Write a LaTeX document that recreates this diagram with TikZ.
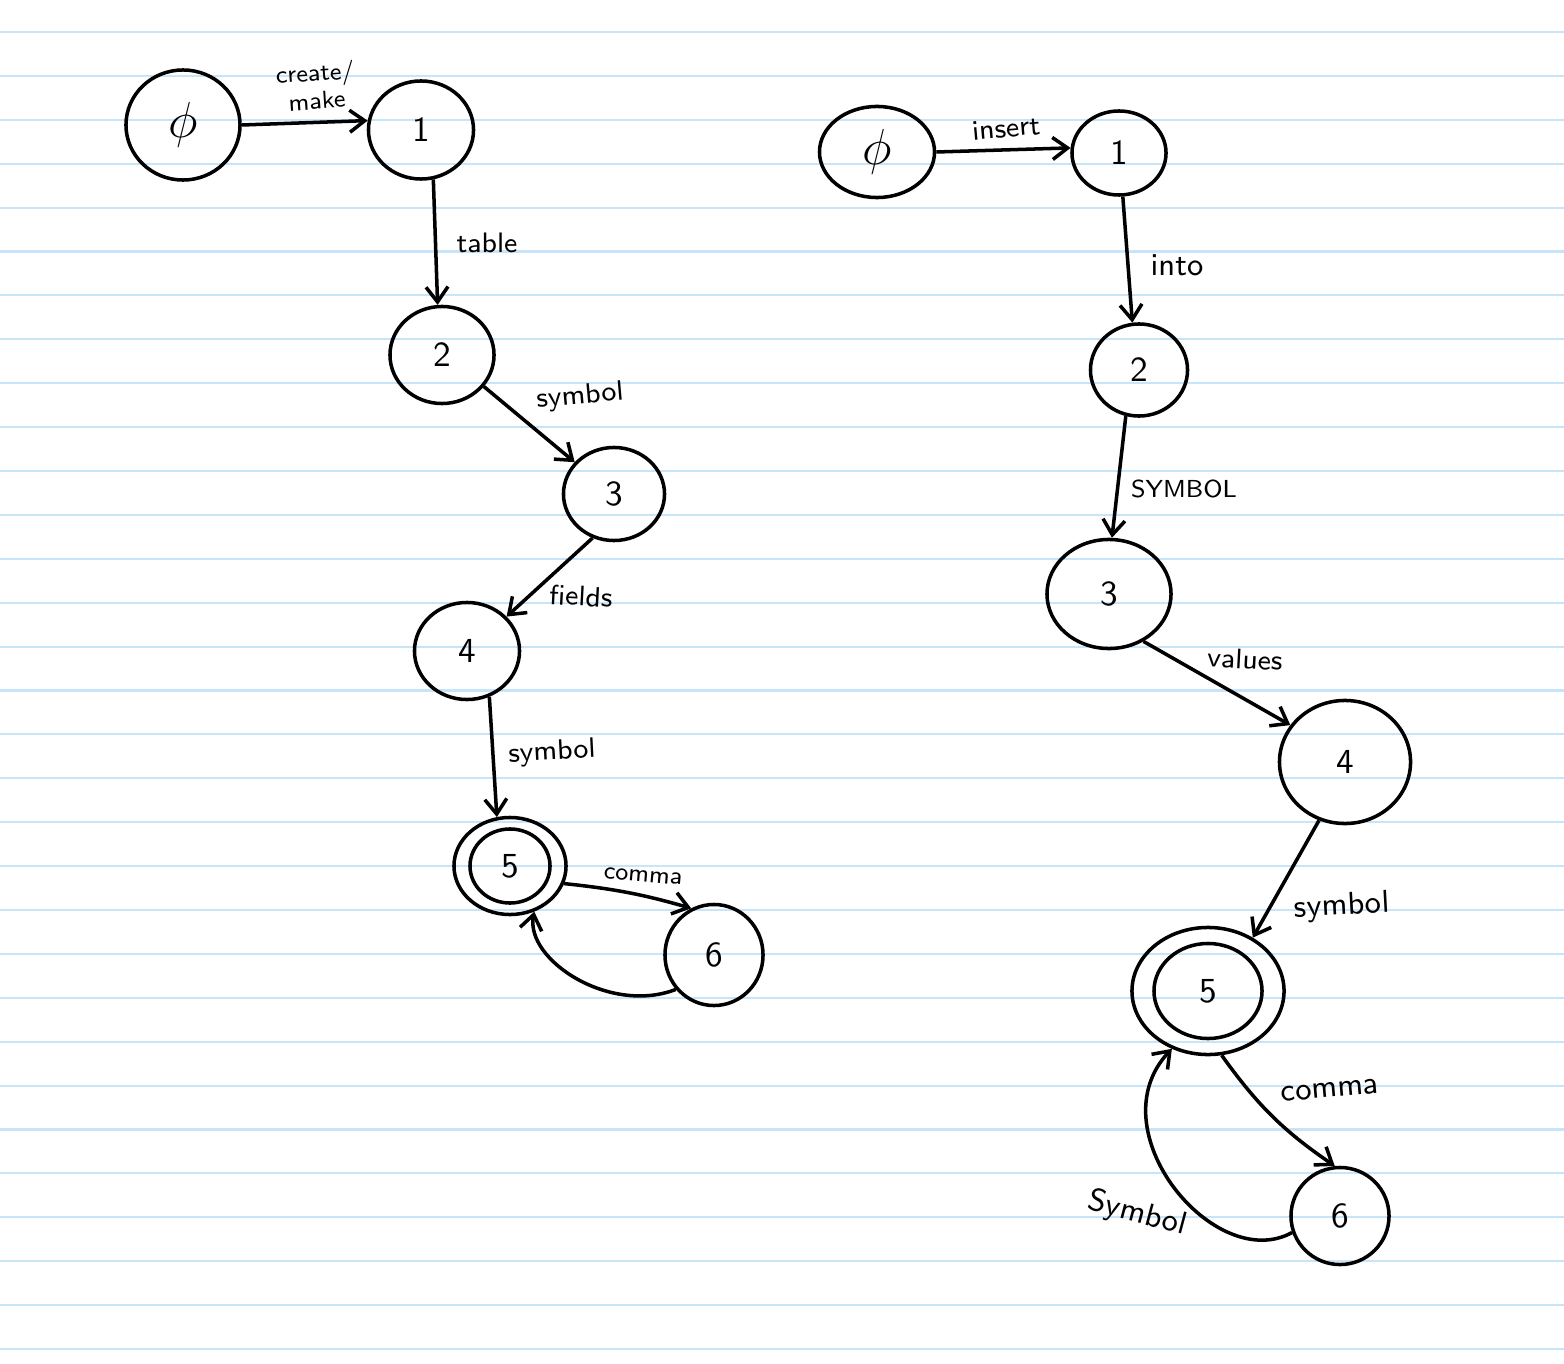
\documentclass[tikz,border=0pt]{standalone}
\usepackage{amsmath}
\usepackage{color}
\usetikzlibrary{arrows.meta, shapes.geometric}
\definecolor{azzurro}{RGB}{200,228,248}

\begin{document}
\begin{tikzpicture}[x=0.01cm, y=-0.01cm, line width=1pt,
	stato/.style={draw, ellipse, inner sep=0pt, font=\sffamily},
	freccia/.style={-{Straight Barb[length=1.5mm, width=2.2mm]}},
	lbl/.style={font=\sffamily\footnotesize, inner sep=1pt},
	lblg/.style={font=\sffamily\small, inner sep=1pt},
	riga/.style={azzurro, line width=0.6pt}]
					%%% Foglio a righe
					\useasboundingbox (0,0) rectangle (1564,1364);
					\fill[white] (0,0) rectangle (1564,1364);
					\foreach \i in {0,...,30}
					\draw[riga] (0,{32+43.9*\i}) -- (1564,{32+43.9*\i});
					
					%%% Stati - create table
					\node[stato, minimum width=1.14cm, minimum height=1.10cm] (lphi) at (183,125) {\Large$\phi$};
					\node[stato, minimum width=1.05cm, minimum height=0.98cm] (l1) at (421,130) {1};
					\node[stato, minimum width=1.04cm, minimum height=0.97cm] (l2) at (442,355) {2};
					\node[stato, minimum width=1.01cm, minimum height=0.93cm] (l3) at (614,494) {3};
					\node[stato, minimum width=1.05cm, minimum height=0.97cm] (l4) at (467,651) {4};
					\node[stato, minimum width=1.12cm, minimum height=0.97cm] (l5) at (510,866) {};
					\node[stato, minimum width=0.80cm, minimum height=0.74cm] (l5in) at (l5) {5};	% stato finale
					\node[stato, minimum width=0.98cm, minimum height=1.01cm] (l6) at (714,955) {6};
					
					%%% Stati - insert into
					\node[stato, minimum width=1.15cm, minimum height=0.91cm] (rphi) at (877,152) {\Large$\phi$};
					\node[stato, minimum width=0.94cm, minimum height=0.84cm] (r1) at (1119,153) {1};
					\node[stato, minimum width=0.97cm, minimum height=0.92cm] (r2) at (1139,370) {2};
					\node[stato, minimum width=1.24cm, minimum height=1.09cm] (r3) at (1109,594) {3};
					\node[stato, minimum width=1.31cm, minimum height=1.23cm] (r4) at (1345,762) {4};
					\node[stato, minimum width=1.52cm, minimum height=1.27cm] (r5) at (1208,991) {};
					\node[stato, minimum width=1.08cm, minimum height=0.95cm] (r5in) at (r5) {5};	% stato finale
					\node[stato, minimum width=0.98cm, minimum height=0.97cm] (r6) at (1340,1216) {6};
					
					%%% Transizioni
					\draw[freccia] (lphi.0) -- (l1.170);
					\draw[freccia] (l1.-76) -- (l2.95);
					\draw[freccia] (l2.-37) -- (l3.141);
					\draw[freccia] (l3.-116) -- (l4.41);
					\draw[freccia] (l4.-64) -- (l5.105);
					\draw[freccia] (l5.-18) to[bend left=5] (l6.116);
					\draw[freccia] (l6.222) .. controls (610,1015) and (525,960) .. (l5.-62);
					
					\draw[freccia] (rphi.0) -- (r1.174);
					\draw[freccia] (r1.-85) -- (r2.98);
					\draw[freccia] (r2.-106) -- (r3.87);
					\draw[freccia] (r3.-54) -- (r4.146);
					\draw[freccia] (r4.-114) -- (r5.50);
					\draw[freccia] (r5.-78) to[bend right=10] (r6.96);
					\draw[freccia] (r6.199) .. controls (1215,1275) and (1095,1130) .. (r5.238);
					
					%%% Etichette
					\node[lbl, font=\sffamily\scriptsize, align=center, rotate=4] (tcreate) at (316,86) {create/\\make};
					\node[lbl] (ttable) at (487,243) {table};
					\node[lbl, rotate=5] (tsym1) at (580,397) {symbol};
					\node[lbl, rotate=-3] (tfields) at (581,596) {fields};
					\node[lbl, rotate=3] (tsym2) at (552,753) {symbol};
					\node[lbl, font=\sffamily\scriptsize, rotate=-5] (tcomma) at (643,876) {comma};
					
					\node[lbl, rotate=5] (tinsert) at (1006,128) {insert};
					\node[lblg] (tinto) at (1177,265) {into};
					\node[lbl, font=\sffamily\scriptsize] (tSYM) at (1184,489) {SYMBOL};
					\node[lbl, rotate=-3] (tvalues) at (1245,659) {values};
					\node[lblg, rotate=3] (tsym3) at (1342,907) {symbol};
					\node[lblg, rotate=5] (tcomma2) at (1330,1090) {comma};
					\node[lblg, rotate=-15] (tsym4) at (1137,1214) {Symbol};
				\end{tikzpicture}
\end{document}
